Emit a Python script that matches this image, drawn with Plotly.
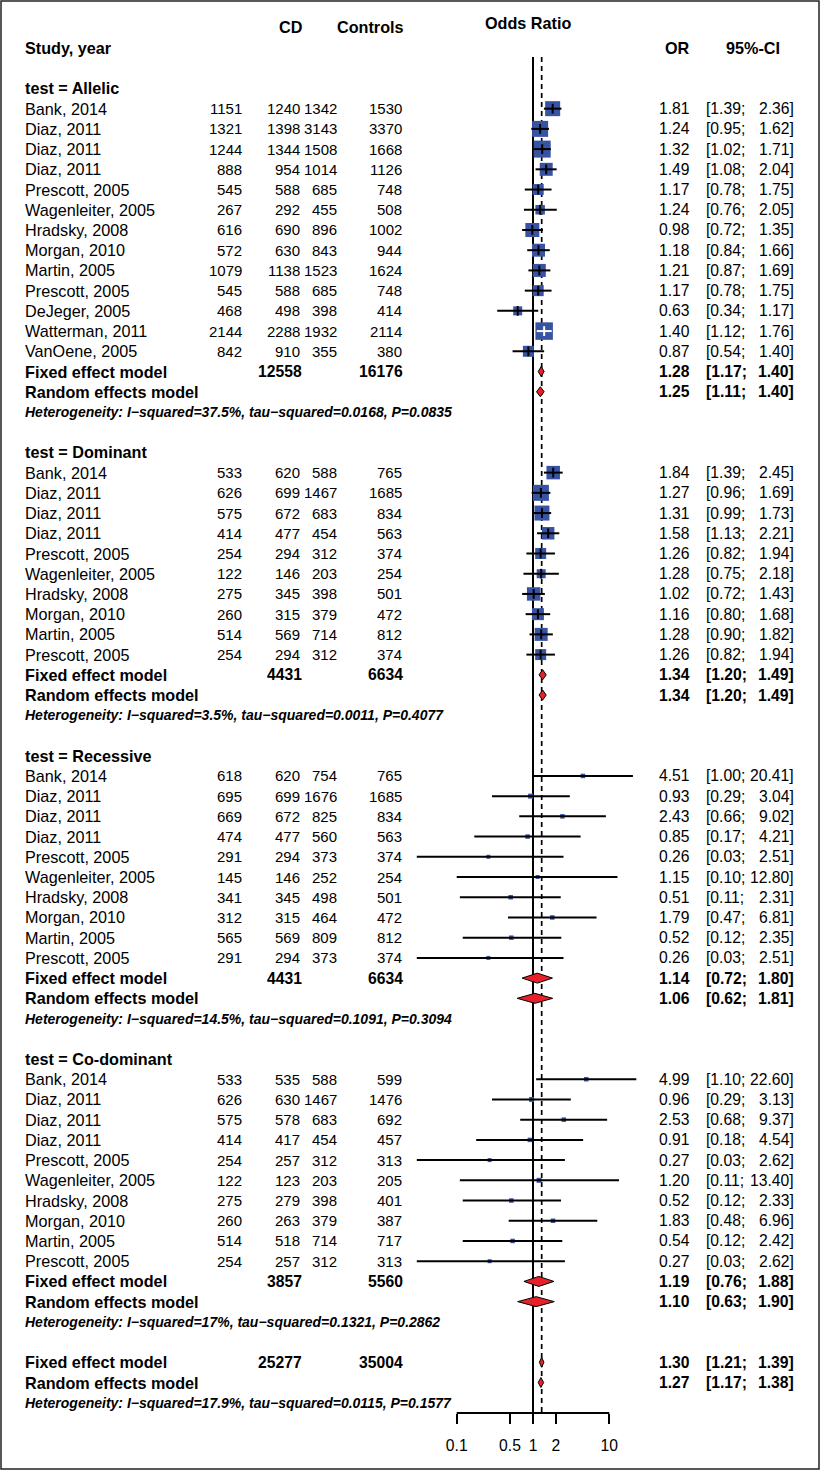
import numpy as np
import plotly.graph_objects as go

# ---------------- data ----------------
allelic_study = ["Bank, 2014", "Diaz, 2011", "Diaz, 2011", "Diaz, 2011", "Prescott, 2005",
                 "Wagenleiter, 2005", "Hradsky, 2008", "Morgan, 2010", "Martin, 2005",
                 "Prescott, 2005", "DeJeger, 2005", "Watterman, 2011", "VanOene, 2005"]
allelic_e_cd = [1151, 1321, 1244, 888, 545, 267, 616, 572, 1079, 545, 468, 2144, 842]
allelic_n_cd = [1240, 1398, 1344, 954, 588, 292, 690, 630, 1138, 588, 498, 2288, 910]
allelic_e_ctrl = [1342, 3143, 1508, 1014, 685, 455, 896, 843, 1523, 685, 398, 1932, 355]
allelic_n_ctrl = [1530, 3370, 1668, 1126, 748, 508, 1002, 944, 1624, 748, 414, 2114, 380]
allelic_or = [1.81, 1.24, 1.32, 1.49, 1.17, 1.24, 0.98, 1.18, 1.21, 1.17, 0.63, 1.40, 0.87]
allelic_lo = [1.39, 0.95, 1.02, 1.08, 0.78, 0.76, 0.72, 0.84, 0.87, 0.78, 0.34, 1.12, 0.54]
allelic_hi = [2.36, 1.62, 1.71, 2.04, 1.75, 2.05, 1.35, 1.66, 1.69, 1.75, 1.17, 1.76, 1.40]

ten_study = ["Bank, 2014", "Diaz, 2011", "Diaz, 2011", "Diaz, 2011", "Prescott, 2005",
             "Wagenleiter, 2005", "Hradsky, 2008", "Morgan, 2010", "Martin, 2005", "Prescott, 2005"]

dom_e_cd = [533, 626, 575, 414, 254, 122, 275, 260, 514, 254]
dom_n_cd = [620, 699, 672, 477, 294, 146, 345, 315, 569, 294]
dom_e_ctrl = [588, 1467, 683, 454, 312, 203, 398, 379, 714, 312]
dom_n_ctrl = [765, 1685, 834, 563, 374, 254, 501, 472, 812, 374]
dom_or = [1.84, 1.27, 1.31, 1.58, 1.26, 1.28, 1.02, 1.16, 1.28, 1.26]
dom_lo = [1.39, 0.96, 0.99, 1.13, 0.82, 0.75, 0.72, 0.80, 0.90, 0.82]
dom_hi = [2.45, 1.69, 1.73, 2.21, 1.94, 2.18, 1.43, 1.68, 1.82, 1.94]

rec_e_cd = [618, 695, 669, 474, 291, 145, 341, 312, 565, 291]
rec_n_cd = [620, 699, 672, 477, 294, 146, 345, 315, 569, 294]
rec_e_ctrl = [754, 1676, 825, 560, 373, 252, 498, 464, 809, 373]
rec_n_ctrl = [765, 1685, 834, 563, 374, 254, 501, 472, 812, 374]
rec_or = [4.51, 0.93, 2.43, 0.85, 0.26, 1.15, 0.51, 1.79, 0.52, 0.26]
rec_lo = [1.00, 0.29, 0.66, 0.17, 0.03, 0.10, 0.11, 0.47, 0.12, 0.03]
rec_hi = [20.41, 3.04, 9.02, 4.21, 2.51, 12.80, 2.31, 6.81, 2.35, 2.51]

cod_e_cd = [533, 626, 575, 414, 254, 122, 275, 260, 514, 254]
cod_n_cd = [535, 630, 578, 417, 257, 123, 279, 263, 518, 257]
cod_e_ctrl = [588, 1467, 683, 454, 312, 203, 398, 379, 714, 312]
cod_n_ctrl = [599, 1476, 692, 457, 313, 205, 401, 387, 717, 313]
cod_or = [4.99, 0.96, 2.53, 0.91, 0.27, 1.20, 0.52, 1.83, 0.54, 0.27]
cod_lo = [1.10, 0.29, 0.68, 0.18, 0.03, 0.11, 0.12, 0.48, 0.12, 0.03]
cod_hi = [22.60, 3.13, 9.37, 4.54, 2.62, 13.40, 2.33, 6.96, 2.42, 2.62]

group_labels = ["test = Allelic", "test = Dominant", "test = Recessive", "test = Co-dominant"]
group_total_cd = [12558, 4431, 4431, 3857]
group_total_ctrl = [16176, 6634, 6634, 5560]
group_fixed = [(1.28, 1.17, 1.40), (1.34, 1.20, 1.49), (1.14, 0.72, 1.80), (1.19, 0.76, 1.88)]
group_random = [(1.25, 1.11, 1.40), (1.34, 1.20, 1.49), (1.06, 0.62, 1.81), (1.10, 0.63, 1.90)]
group_i2 = ["37.5%", "3.5%", "14.5%", "17%"]
group_tau2 = ["0.0168", "0.0011", "0.1091", "0.1321"]
group_p = ["0.0835", "0.4077", "0.3094", "0.2862"]

overall_total_cd = 25277
overall_total_ctrl = 35004
overall_fixed = (1.30, 1.21, 1.39)
overall_random = (1.27, 1.17, 1.38)
overall_i2, overall_tau2, overall_p = "17.9%", "0.0115", "0.1577"

axis_ticks = [0.1, 0.5, 1, 2, 10]
axis_ticktext = ["0.1", "0.5", "1", "2", "10"]

# ---------------- styles ----------------
allelic_box = [15, 16, 17, 13, 11, 9.5, 14, 13, 13, 11, 9, 17.5, 11]
dom_box = [13.5, 16, 15, 12.5, 11, 9, 13.5, 12, 13, 11]
rec_box = [4.5, 5, 4.5, 4.5, 4, 4, 4.5, 4.5, 4.5, 4]
cod_box = [4.5, 5, 4.5, 4.5, 4, 5, 4.5, 4.5, 4.5, 4]

W, H = 820, 1470
PX0 = 533.0        # pixel of OR = 1
PXD = 76.3         # pixels per decade
ROW0 = 48.0        # pixel of row 0 ("Study, year")
ROWH = 20.22       # row height
AXIS_PX = 1413.0
FONT = "Liberation Sans, Arial, Helvetica, sans-serif"
FS = 15.7
FS_TXT = 16.2
FS_CNT = 15.0
FS_HET = 14.0
BLUE = "#3953A4"
RED = "#E8202A"

groups = [
    dict(study=allelic_study, ecd=allelic_e_cd, ncd=allelic_n_cd, ect=allelic_e_ctrl,
         nct=allelic_n_ctrl, orr=allelic_or, lo=allelic_lo, hi=allelic_hi, box=allelic_box),
    dict(study=ten_study, ecd=dom_e_cd, ncd=dom_n_cd, ect=dom_e_ctrl, nct=dom_n_ctrl,
         orr=dom_or, lo=dom_lo, hi=dom_hi, box=dom_box),
    dict(study=ten_study, ecd=rec_e_cd, ncd=rec_n_cd, ect=rec_e_ctrl, nct=rec_n_ctrl,
         orr=rec_or, lo=rec_lo, hi=rec_hi, box=rec_box),
    dict(study=ten_study, ecd=cod_e_cd, ncd=cod_n_cd, ect=cod_e_ctrl, nct=cod_n_ctrl,
         orr=cod_or, lo=cod_lo, hi=cod_hi, box=cod_box),
]

annotations = []


def txt(px, k, s, anchor="left", size=FS, bold=False, italic=False):
    if italic:
        s = "<i>" + s + "</i>"
    if bold:
        s = "<b>" + s + "</b>"
    annotations.append(dict(x=px / W, y=k, xref="paper", yref="y", text=s, showarrow=False,
                            xanchor=anchor, yanchor="middle", borderpad=0,
                            font=dict(family=FONT, size=size, color="black")))


def est_text(k, est, lo, hi, bold=False):
    txt(691, k, f"{est:.2f}", "right", bold=bold)
    txt(705, k, f"[{lo:.2f};", "left", bold=bold)
    txt(795, k, f"{hi:.2f}]", "right", bold=bold)


# headers
txt(24, 0, "Study, year", "left", size=FS_TXT, bold=True)
txt(304, -1.02, "CD", "right", size=FS_TXT, bold=True)
txt(405, -1.02, "Controls", "right", size=FS_TXT, bold=True)
txt(528, -1.22, "Odds Ratio", "center", size=FS_TXT, bold=True)
txt(691, 0, "OR", "right", size=FS_TXT, bold=True)
txt(753, 0, "95%-CI", "center", size=FS_TXT, bold=True)

ci_x, ci_y = [], []
ciw_x, ciw_y = [], []
box_x, box_y, box_s = [], [], []
tk_x, tk_y, tk_c = [], [], []
dia_x, dia_y = [], []
DH = 5.0 / ROWH


def diamond(k, est, lo, hi):
    dia_x.extend([lo, est, hi, est, lo, None])
    dia_y.extend([k, k - DH, k, k + DH, k, None])


def het(k, i2, tau2, p):
    txt(24, k, f"Heterogeneity: I\u2212squared={i2}, tau\u2212squared={tau2}, P={p}",
        "left", size=FS_HET, bold=True, italic=True)


k = 2
for gi, g in enumerate(groups):
    txt(24, k, group_labels[gi], "left", size=FS_TXT, bold=True)
    k += 1
    for i in range(len(g["study"])):
        txt(24, k, g["study"][i], "left", size=FS_TXT)
        txt(243, k, str(g["ecd"][i]), "right", size=FS_CNT)
        txt(301, k, str(g["ncd"][i]), "right", size=FS_CNT)
        txt(338, k, str(g["ect"][i]), "right", size=FS_CNT)
        txt(403, k, str(g["nct"][i]), "right", size=FS_CNT)
        est_text(k, g["orr"][i], g["lo"][i], g["hi"][i])
        box_x.append(g["orr"][i]); box_y.append(k); box_s.append(g["box"][i])
        ci_px = PXD * (np.log10(g["hi"][i]) - np.log10(g["lo"][i]))
        inside = g["box"][i] > ci_px
        if inside:
            ciw_x.extend([g["lo"][i], g["hi"][i], None]); ciw_y.extend([k, k, None])
        else:
            ci_x.extend([g["lo"][i], g["hi"][i], None]); ci_y.extend([k, k, None])
        if g["box"][i] > 6:
            tk_x.append(g["orr"][i]); tk_y.append(k); tk_c.append("white" if inside else "black")
        k += 1
    f_est, f_lo, f_hi = group_fixed[gi]
    r_est, r_lo, r_hi = group_random[gi]
    txt(24, k, "Fixed effect model", "left", size=FS_TXT, bold=True)
    txt(303, k, str(group_total_cd[gi]), "right", bold=True)
    txt(404, k, str(group_total_ctrl[gi]), "right", bold=True)
    est_text(k, f_est, f_lo, f_hi, bold=True)
    diamond(k, f_est, f_lo, f_hi)
    k += 1
    txt(24, k, "Random effects model", "left", size=FS_TXT, bold=True)
    est_text(k, r_est, r_lo, r_hi, bold=True)
    diamond(k, r_est, r_lo, r_hi)
    k += 1
    het(k, group_i2[gi], group_tau2[gi], group_p[gi])
    k += 2

txt(24, k, "Fixed effect model", "left", size=FS_TXT, bold=True)
txt(303, k, str(overall_total_cd), "right", bold=True)
txt(404, k, str(overall_total_ctrl), "right", bold=True)
est_text(k, *overall_fixed, bold=True)
diamond(k, *overall_fixed)
k += 1
txt(24, k, "Random effects model", "left", size=FS_TXT, bold=True)
est_text(k, *overall_random, bold=True)
diamond(k, *overall_random)
k += 1
het(k, overall_i2, overall_tau2, overall_p)

k_axis = (AXIS_PX - ROW0) / ROWH
k_top_line = (57 - ROW0) / ROWH

fig = go.Figure()
fig.add_trace(go.Scatter(x=[1, 1], y=[k_top_line, k_axis], mode="lines",
                         line=dict(color="black", width=2), cliponaxis=False, hoverinfo="skip"))
fig.add_trace(go.Scatter(x=[overall_fixed[0]] * 2, y=[k_top_line, k_axis], mode="lines",
                         line=dict(color="black", width=1.7, dash="5px,4px"),
                         cliponaxis=False, hoverinfo="skip"))
fig.add_trace(go.Scatter(x=box_x, y=box_y, mode="markers",
                         marker=dict(symbol="square", size=box_s, color=BLUE, opacity=1,
                                     line=dict(width=0)),
                         hoverinfo="skip"))
fig.add_trace(go.Scatter(x=ci_x, y=ci_y, mode="lines", line=dict(color="black", width=2),
                         cliponaxis=False, hoverinfo="skip"))
fig.add_trace(go.Scatter(x=ciw_x, y=ciw_y, mode="lines", line=dict(color="white", width=2),
                         hoverinfo="skip"))
fig.add_trace(go.Scatter(x=tk_x, y=tk_y, mode="markers",
                         marker=dict(symbol="line-ns", size=7, color=tk_c, opacity=1,
                                     line=dict(color=tk_c, width=2)),
                         hoverinfo="skip"))
fig.add_trace(go.Scatter(x=dia_x, y=dia_y, mode="lines", fill="toself", fillcolor=RED,
                         line=dict(color="black", width=1), hoverinfo="skip"))

ybot = 1 - AXIS_PX / H
fig.add_shape(type="line", xref="x", yref="paper", x0=axis_ticks[0], x1=axis_ticks[-1],
              y0=ybot, y1=ybot, line=dict(color="black", width=2))
fig.add_shape(type="rect", xref="paper", yref="paper", x0=1 / W, x1=1 - 1 / W,
              y0=1 / H, y1=1 - 1 / H, line=dict(color="#222222", width=1.5))

fig.update_layout(
    width=W, height=H, autosize=False,
    margin=dict(l=0, r=0, t=0, b=0, pad=0),
    paper_bgcolor="white", plot_bgcolor="white",
    showlegend=False,
    annotations=annotations,
    xaxis=dict(type="log", domain=[0, 1], range=[(0 - PX0) / PXD, (W - PX0) / PXD],
               showgrid=False, zeroline=False, showline=False,
               tickvals=axis_ticks, ticktext=axis_ticktext,
               ticks="outside", ticklen=10, tickwidth=2, tickcolor="black",
               ticklabelstandoff=8,
               tickfont=dict(family=FONT, size=FS, color="black")),
    yaxis=dict(domain=[ybot, 1], range=[k_axis, (0 - ROW0) / ROWH], visible=False,
               showgrid=False, zeroline=False),
)

fig.write_html("out.html", config={"displayModeBar": False},
               post_script="document.body.style.margin='0';document.body.style.overflow='hidden';")
